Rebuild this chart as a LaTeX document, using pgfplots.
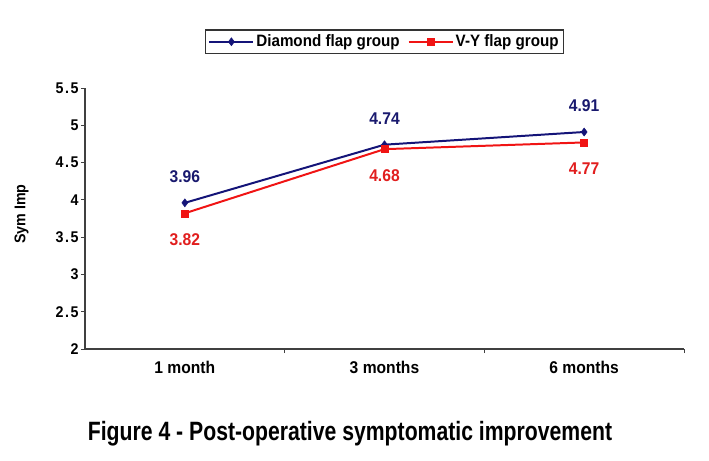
\documentclass[border=0pt]{standalone}
\usepackage{fontspec}
\setmainfont{Liberation Sans}[FakeStretch=0.92]
\newfontfamily\titlefont{Liberation Sans}[FakeStretch=0.8]
\usepackage{pgfplots}
\pgfplotsset{compat=1.18}
\definecolor{navyb}{RGB}{20,20,120}
\definecolor{redl}{RGB}{240,20,20}
\definecolor{navyt}{RGB}{25,25,110}
\definecolor{redt}{RGB}{225,30,30}
\begin{document}
\begin{tikzpicture}
\begin{axis}[
  scale only axis,
  width=599bp, height=261bp,
  xmin=0, xmax=3, ymin=2, ymax=5.5,
  axis lines=left,
  axis line style={-, draw=black!75, line width=1.1pt},
  xtick={0.5,1.5,2.5},
  xticklabels={1 month,3 months,6 months},
  minor xtick={1,2,3},
  major x tick style={draw=none},
  minor tick length=4bp,
  ytick={2,2.5,...,5.5},
  yticklabel style={/pgf/number format/fixed, /pgf/number format/precision=1, font=\fontsize{15.5bp}{17bp}\selectfont\bfseries\addfontfeature{LetterSpace=10}, xshift=1bp},
  /pgf/number format/assume math mode=true,
  tick style={draw=black!75, line width=0.8pt},
  major tick length=4bp,
  tick align=outside,
  xticklabel style={font=\fontsize{17bp}{19bp}\selectfont\bfseries, yshift=-5bp},
  ylabel={Sym Imp},
  ylabel style={font=\fontsize{15.5bp}{17bp}\selectfont\bfseries, at={([xshift=-53bp]axis description cs:0,0.517)}, anchor=south},
  legend columns=2,
  legend style={at={(axis description cs:0.5,1)}, anchor=south, yshift=34bp, draw=black!80, line width=1.1pt, font=\fontsize{16.5bp}{18bp}\selectfont\bfseries, inner sep=3bp, /tikz/every even column/.append style={column sep=6bp}},
  legend image code/.code={\draw[mark repeat=2, mark phase=2] plot coordinates {(0bp,0bp) (22bp,0bp) (44bp,0bp)};},
  clip=false,
]
\addplot[navyb, line width=2pt, mark=diamond*, mark size=4bp, mark options={fill=navyb, draw=navyb, line width=0.5pt}] coordinates {(0.5,3.96) (1.5,4.74) (2.5,4.91)};
\addlegendentry{Diamond flap group}
\addplot[redl, line width=2pt, mark=square*, mark size=3.5bp, mark options={fill=redl, draw=redl, line width=0.5pt}] coordinates {(0.5,3.82) (1.5,4.68) (2.5,4.77)};
\addlegendentry{V-Y flap group}
\addplot[only marks, mark=none, nodes near coords, point meta=explicit symbolic,
  every node near coord/.append style={font=\fontsize{17bp}{19bp}\selectfont\bfseries, text=navyt, anchor=south, yshift=17bp}] coordinates {(0.5,3.96)[3.96] (1.5,4.74)[4.74] (2.5,4.91)[4.91]};
\addplot[only marks, mark=none, nodes near coords, point meta=explicit symbolic,
  every node near coord/.append style={font=\fontsize{17bp}{19bp}\selectfont\bfseries, text=redt, anchor=north, yshift=-17bp}] coordinates {(0.5,3.82)[3.82] (1.5,4.68)[4.68] (2.5,4.77)[4.77]};
\end{axis}
\node[font=\titlefont\fontsize{26.5bp}{30bp}\selectfont\bfseries] at (265bp,-85bp) {Figure 4 - Post-operative symptomatic improvement};
\path[use as bounding box] (-85bp,-112bp) rectangle (624bp,349bp);
\end{tikzpicture}
\end{document}
